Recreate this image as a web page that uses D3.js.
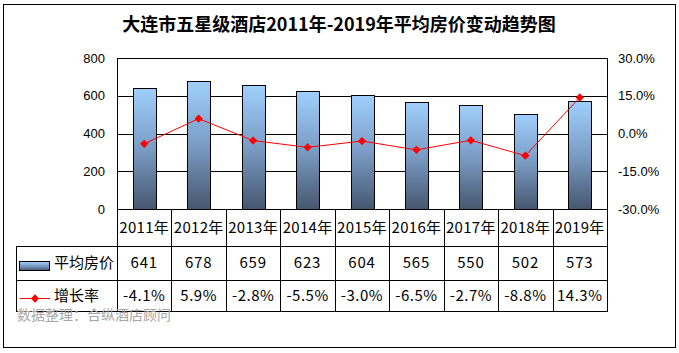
<!DOCTYPE html>
<html lang="zh">
<head>
<meta charset="UTF-8">
<title>大连市五星级酒店平均房价</title>
<script src="https://d3js.org/d3.v7.min.js"></script>
<style>
    body { margin: 0; background: #fff; }
    svg { display: block; }
    .axis text { font-family: "Liberation Sans", Arial, sans-serif; font-size: 13px; fill: #000; }
    .cell { font-family: "Noto Sans CJK SC", sans-serif; font-size: 14px; fill: #000; }
</style>
</head>
<body>
<div id="chart"></div>
<script>
const years = ["2011年", "2012年", "2013年", "2014年", "2015年", "2016年", "2017年", "2018年", "2019年"];
const prices = [641, 678, 659, 623, 604, 565, 550, 502, 573];
const growth = [-4.1, 5.9, -2.8, -5.5, -3.0, -6.5, -2.7, -8.8, 14.3];
const leftTicks = [0, 200, 400, 600, 800];
const rightTicks = [-30, -15, 0, 15, 30];

const W = 679, H = 353;
const plot = { left: 117, right: 607, top: 58, bottom: 209 };
const rowY = [209, 246, 280, 311];
const tableLeft = 16;

const svg = d3.select("#chart").append("svg")
    .attr("width", W).attr("height", H);

// outer frame
svg.append("rect")
    .attr("x", 3.5).attr("y", 4.5).attr("width", 672).attr("height", 343)
    .attr("fill", "#fff").attr("stroke", "#000").attr("stroke-width", 1);

// title
svg.append("text")
    .attr("x", 339).attr("y", 31)
    .attr("text-anchor", "middle")
    .style("font-family", "'Noto Sans CJK SC', sans-serif")
    .style("font-weight", "bold")
    .style("font-size", "18px")
    .text("大连市五星级酒店2011年-2019年平均房价变动趋势图");

const x = d3.scaleBand().domain(years).range([plot.left, plot.right]).paddingInner(0).paddingOuter(0);
const yL = d3.scaleLinear().domain([0, 800]).range([plot.bottom, plot.top]);
const yR = d3.scaleLinear().domain([-30, 30]).range([plot.bottom, plot.top]);

const defs = svg.append("defs");
const grad = defs.append("linearGradient").attr("id", "barGrad")
    .attr("x1", 0).attr("y1", 0).attr("x2", 0).attr("y2", 1);
grad.append("stop").attr("offset", "0%").attr("stop-color", "#9fcffd");
grad.append("stop").attr("offset", "50%").attr("stop-color", "#7a9cc4");
grad.append("stop").attr("offset", "100%").attr("stop-color", "#46566f");

// gridlines
svg.append("g")
    .selectAll("line")
    .data(leftTicks)
    .join("line")
    .attr("x1", plot.left).attr("x2", plot.right)
    .attr("y1", d => Math.round(yL(d)) + 0.5).attr("y2", d => Math.round(yL(d)) + 0.5)
    .attr("stroke", "#000");

svg.append("line")
    .attr("x1", plot.left + 0.5).attr("x2", plot.left + 0.5)
    .attr("y1", plot.top).attr("y2", plot.bottom).attr("stroke", "#000");
svg.append("line")
    .attr("x1", plot.right + 0.5).attr("x2", plot.right + 0.5)
    .attr("y1", plot.top).attr("y2", plot.bottom).attr("stroke", "#000");

// bars
const barW = 23;
svg.append("g")
    .selectAll("rect")
    .data(prices)
    .join("rect")
    .attr("x", (d, i) => Math.round(x(years[i]) + x.bandwidth() / 2 - barW / 2) + 0.5)
    .attr("y", d => Math.round(yL(d)) + 0.5)
    .attr("width", barW)
    .attr("height", d => Math.round(yL(0)) - Math.round(yL(d)))
    .attr("fill", "url(#barGrad)")
    .attr("stroke", "#000").attr("stroke-width", 1);

// growth line
const line = d3.line()
    .x((d, i) => x(years[i]) + x.bandwidth() / 2)
    .y(d => yR(d));
svg.append("path")
    .datum(growth)
    .attr("d", line)
    .attr("fill", "none").attr("stroke", "#ff0000").attr("stroke-width", 1);

const diamond = d3.symbol().type(d3.symbolDiamond2).size(44);
svg.append("g")
    .selectAll("path")
    .data(growth)
    .join("path")
    .attr("d", diamond)
    .attr("transform", (d, i) => `translate(${x(years[i]) + x.bandwidth() / 2},${yR(d)})`)
    .attr("fill", "#ff0000");

// axes
const gl = svg.append("g").attr("class", "axis")
    .attr("transform", `translate(${plot.left},0)`)
    .call(d3.axisLeft(yL).tickValues(leftTicks).tickSize(0).tickPadding(12));
gl.select(".domain").remove();

const gr = svg.append("g").attr("class", "axis")
    .attr("transform", `translate(${plot.right},0)`)
    .call(d3.axisRight(yR).tickValues(rightTicks).tickSize(0).tickPadding(11)
        .tickFormat(d => d.toFixed(1) + "%"));
gr.select(".domain").remove();

// data table
const tbl = svg.append("g");
const hl = [
    { y: rowY[1], x1: tableLeft, x2: plot.right },
    { y: rowY[2], x1: tableLeft, x2: plot.right },
    { y: rowY[3], x1: tableLeft, x2: plot.right }
];
tbl.selectAll("line.h").data(hl).join("line").attr("class", "h")
    .attr("x1", d => d.x1).attr("x2", d => d.x2 + 1)
    .attr("y1", d => d.y + 0.5).attr("y2", d => d.y + 0.5)
    .attr("stroke", "#000");

const vlines = years.map(d => x(d)).concat([plot.right]);
tbl.selectAll("line.v").data(vlines).join("line").attr("class", "v")
    .attr("x1", d => Math.round(d) + 0.5).attr("x2", d => Math.round(d) + 0.5)
    .attr("y1", rowY[0]).attr("y2", rowY[3] + 1)
    .attr("stroke", "#000");
tbl.append("line")
    .attr("x1", tableLeft + 0.5).attr("x2", tableLeft + 0.5)
    .attr("y1", rowY[1]).attr("y2", rowY[3] + 1)
    .attr("stroke", "#000");

const cellMid = d => x(d) + x.bandwidth() / 2;
tbl.selectAll("text.yr").data(years).join("text").attr("class", "cell yr")
    .attr("x", cellMid).attr("y", (rowY[0] + rowY[1]) / 2)
    .attr("dy", "0.36em").attr("text-anchor", "middle")
    .style("font-size", "15px").style("letter-spacing", "0.3px")
    .text(d => d);

tbl.selectAll("text.pr").data(prices).join("text").attr("class", "cell pr")
    .attr("x", (d, i) => cellMid(years[i])).attr("y", (rowY[1] + rowY[2]) / 2)
    .attr("dy", "0.36em").attr("text-anchor", "middle")
    .style("font-size", "15px").style("letter-spacing", "0.8px")
    .text(d => d);

tbl.selectAll("text.gr").data(growth).join("text").attr("class", "cell gr")
    .attr("x", (d, i) => cellMid(years[i])).attr("y", (rowY[2] + rowY[3]) / 2)
    .attr("dy", "0.36em").attr("text-anchor", "middle")
    .style("font-size", "15px").style("letter-spacing", "0.5px")
    .text(d => d.toFixed(1) + "%");

// legend keys in table
tbl.append("rect")
    .attr("x", 19.5).attr("y", 261.5).attr("width", 30).attr("height", 9)
    .attr("fill", "url(#barGrad)").attr("stroke", "#000");
tbl.append("text").attr("class", "cell")
    .attr("x", 54).attr("y", (rowY[1] + rowY[2]) / 2).attr("dy", "0.36em")
    .style("font-size", "15px")
    .text("平均房价");

tbl.append("line")
    .attr("x1", 20).attr("x2", 50).attr("y1", 298.5).attr("y2", 298.5)
    .attr("stroke", "#ff0000");
tbl.append("path")
    .attr("d", diamond)
    .attr("transform", "translate(35,298.5)")
    .attr("fill", "#ff0000");
tbl.append("text").attr("class", "cell")
    .attr("x", 54).attr("y", (rowY[2] + rowY[3]) / 2).attr("dy", "0.36em")
    .style("font-size", "15px")
    .text("增长率");

// source note
svg.append("text")
    .attr("x", 17).attr("y", 315).attr("dy", "0.36em")
    .style("font-family", "'Noto Sans CJK SC', sans-serif")
    .style("font-size", "14px")
    .attr("fill", "#a6a6a6")
    .text("数据整理：合纵酒店顾问");
</script>
</body>
</html>
